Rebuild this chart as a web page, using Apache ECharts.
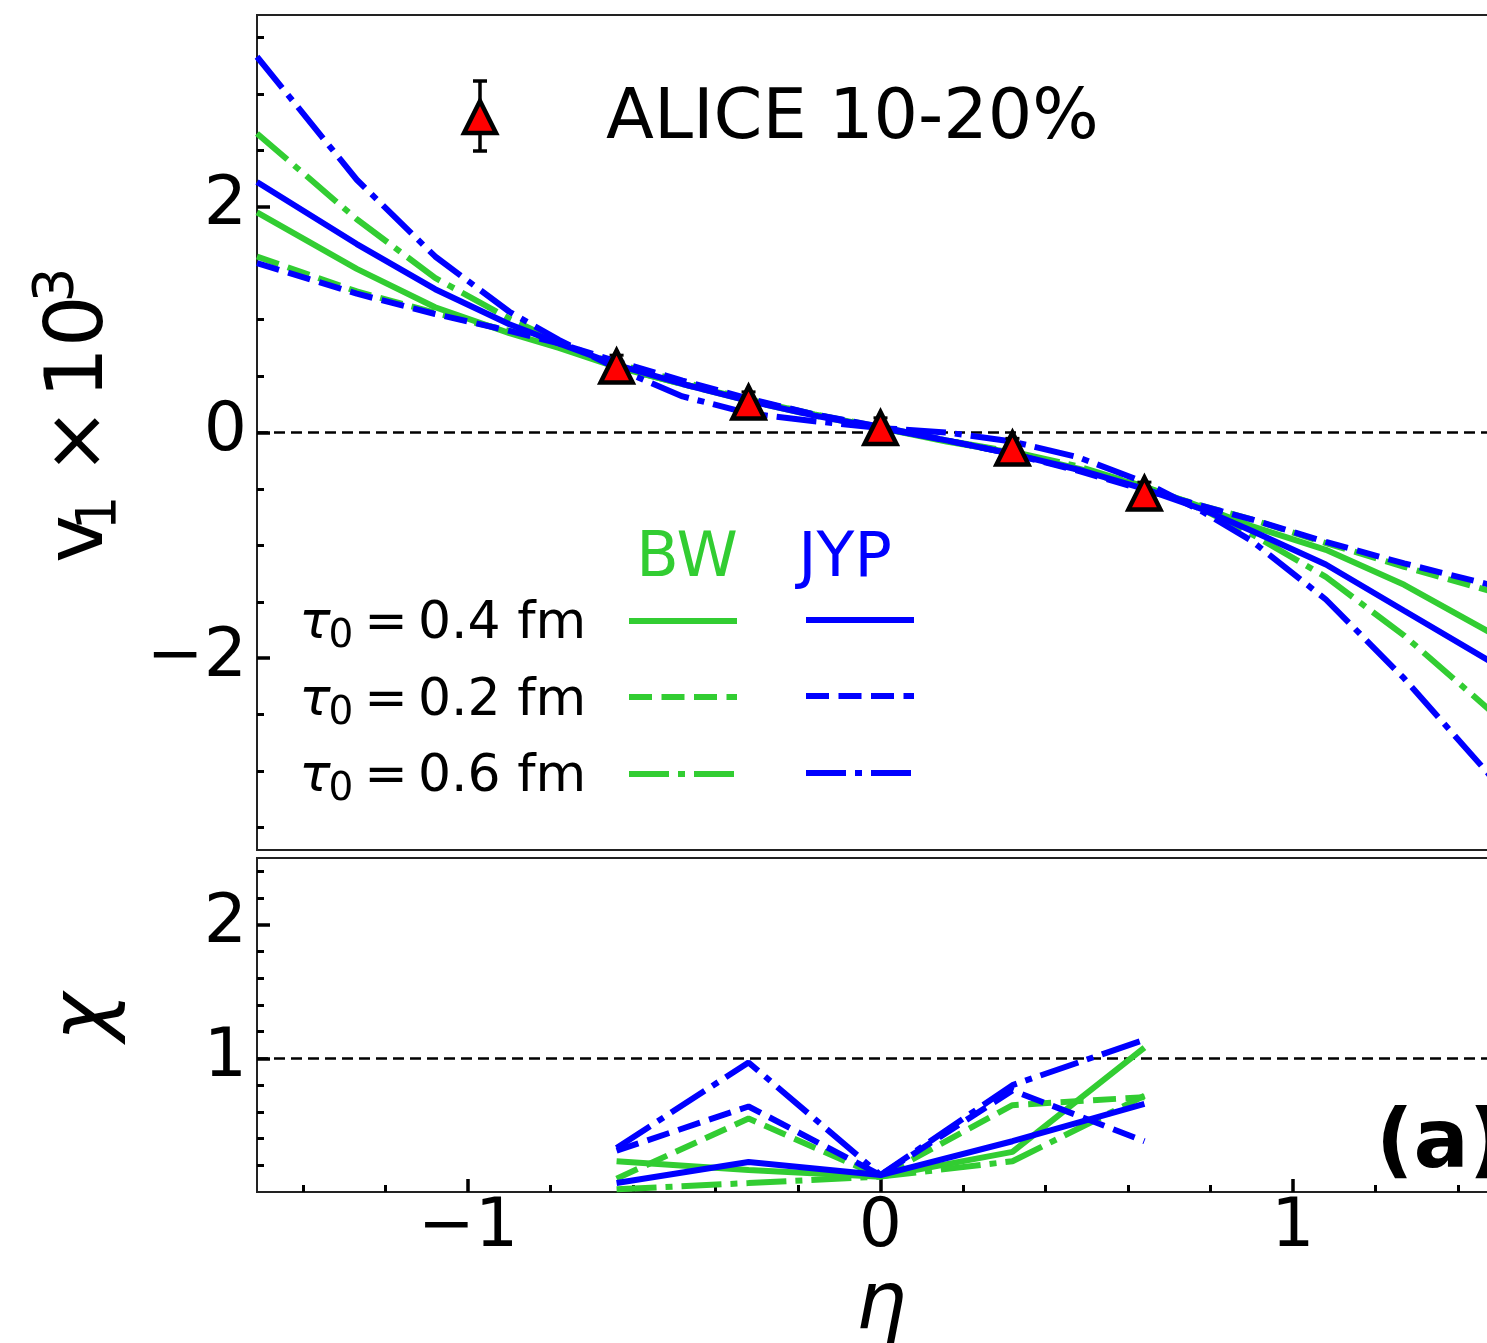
<!DOCTYPE html>
<html><head><meta charset="utf-8">
<script src="https://cdn.jsdelivr.net/npm/echarts@6/dist/echarts.min.js"></script>
<style>html,body{margin:0;padding:0;background:#fff}#c{width:1487px;height:1343px}</style>
</head><body><div id="c"></div>
<script>
// ---------- data ----------
const eta = [-1.512, -1.27, -1.08, -0.9, -0.78, -0.64, -0.48, -0.32, -0.16, 0, 0.16, 0.32, 0.48, 0.64, 0.78, 0.9, 1.08, 1.27, 1.512];
const v1_BW_04  = [1.95, 1.45, 1.11, 0.88, 0.75, 0.58, 0.43, 0.29, 0.16, 0.04, -0.08, -0.18, -0.32, -0.48, -0.66, -0.83, -1.04, -1.35, -1.84];
const v1_BW_02  = [1.56, 1.25, 1.06, 0.90, 0.78, 0.61, 0.45, 0.29, 0.16, 0.05, -0.07, -0.19, -0.33, -0.50, -0.65, -0.77, -0.98, -1.19, -1.44];
const v1_BW_06  = [2.65, 1.89, 1.37, 1.01, 0.80, 0.58, 0.43, 0.28, 0.15, 0.04, -0.07, -0.17, -0.30, -0.48, -0.68, -0.90, -1.28, -1.80, -2.57];
const v1_JYP_04 = [2.22, 1.67, 1.27, 0.96, 0.79, 0.60, 0.43, 0.28, 0.15, 0.04, -0.07, -0.19, -0.33, -0.50, -0.68, -0.87, -1.17, -1.58, -2.10];
const v1_JYP_02 = [1.50, 1.23, 1.05, 0.90, 0.79, 0.63, 0.46, 0.30, 0.16, 0.05, -0.07, -0.19, -0.34, -0.51, -0.65, -0.77, -0.97, -1.16, -1.38];
const v1_JYP_06 = [3.33, 2.24, 1.56, 1.07, 0.82, 0.57, 0.32, 0.17, 0.10, 0.04, 0.00, -0.08, -0.22, -0.44, -0.70, -0.96, -1.48, -2.18, -3.18];

const etaData = [-0.64, -0.32, 0, 0.32, 0.64];
const v1Data  = [0.585, 0.265, 0.04, -0.142, -0.54];
const v1Err   = [0.10, 0.095, 0.09, 0.09, 0.10];

const chi_BW_04  = [0.23, 0.165, 0.115, 0.30, 1.08];
const chi_BW_02  = [0.10, 0.55, 0.115, 0.65, 0.71];
const chi_BW_06  = [0.02, 0.067, 0.115, 0.23, 0.72];
const chi_JYP_04 = [0.067, 0.225, 0.127, 0.38, 0.66];
const chi_JYP_02 = [0.31, 0.64, 0.127, 0.76, 0.38];
const chi_JYP_06 = [0.33, 0.97, 0.127, 0.80, 1.14];

const xMajor = [-1, 0, 1];
const xMinor = [-1.4, -1.2, -0.8, -0.6, -0.4, -0.2, 0.2, 0.4, 0.6, 0.8, 1.2, 1.4];
const yTopMajor = [-2, 0, 2];
const yTopMinor = [-3.5, -3, -2.5, -1.5, -1, -0.5, 0.5, 1, 1.5, 2.5, 3, 3.5];
const yBotMajor = [1, 2];
const yBotMinor = [0.2, 0.4, 0.6, 0.8, 1.2, 1.4, 1.6, 1.8, 2.2, 2.4];

// ---------- style ----------
const GREEN = '#32CD32', BLUE = '#0000FF';
const FONT = 'DejaVu Sans';
const LW = 6;
const DASH = [23, 9.5];
const DASHDOT = [40, 9, 7, 9];
const X_MIN = -1.512, X_MAX = 1.512;

const fmt = v => (v < 0 ? '\u2212' + (-v) : String(v));
const zip = (xs, ys) => xs.map((x, i) => [x, ys[i]]);

function curve(name, ys, color, type, gi) {
  return {
    name, type: 'line', xAxisIndex: gi === 0 ? 0 : 1, yAxisIndex: gi === 0 ? 0 : 2,
    data: zip(gi === 0 ? eta : etaData, ys), showSymbol: false, symbol: 'none',
    lineStyle: { color, width: LW, type, cap: 'butt' }, clip: true, z: 3, silent: true
  };
}
function refLine(y, gi) {
  return {
    type: 'line', xAxisIndex: gi === 0 ? 0 : 1, yAxisIndex: gi === 0 ? 0 : 2,
    data: [[X_MIN, y], [X_MAX, y]], showSymbol: false, symbol: 'none',
    lineStyle: { color: '#000', width: 2.5, type: [11, 6] }, z: 2, silent: true
  };
}
const axisTxt = { color: '#000', fontSize: 68, fontFamily: FONT };
const noLine = { show: false, onZero: false };

const option = {
  animation: false,
  backgroundColor: '#fff',
  grid: [
    { left: 257, top: 15, width: 1247, height: 835, show: true, borderColor: '#222', borderWidth: 2, backgroundColor: 'transparent', containLabel: false, outerBoundsMode: 'none' },
    { left: 257, top: 858, width: 1247, height: 334, show: true, borderColor: '#222', borderWidth: 2, backgroundColor: 'transparent', containLabel: false, outerBoundsMode: 'none' }
  ],
  xAxis: [
    { gridIndex: 0, type: 'value', min: X_MIN, max: X_MAX, show: false, axisLine: noLine },
    { gridIndex: 1, type: 'value', min: X_MIN, max: X_MAX, position: 'bottom',
      axisLine: noLine, splitLine: { show: false },
      axisTick: { show: true, inside: true, length: 13, customValues: xMajor, lineStyle: { color: '#000', width: 3.5 } },
      axisLabel: Object.assign({ show: true, margin: 2, customValues: xMajor, formatter: fmt }, axisTxt) },
    { gridIndex: 1, type: 'value', min: X_MIN, max: X_MAX, position: 'bottom',
      axisLine: noLine, splitLine: { show: false }, axisLabel: { show: false },
      axisTick: { show: true, inside: true, length: 7, customValues: xMinor, lineStyle: { color: '#000', width: 3 } } }
  ],
  yAxis: [
    { gridIndex: 0, type: 'value', min: -3.7, max: 3.7, position: 'left',
      axisLine: noLine, splitLine: { show: false },
      axisTick: { show: true, inside: true, length: 13, customValues: yTopMajor, lineStyle: { color: '#000', width: 3.5 } },
      axisLabel: Object.assign({ show: true, margin: 10, customValues: yTopMajor, formatter: fmt }, axisTxt) },
    { gridIndex: 0, type: 'value', min: -3.7, max: 3.7, position: 'left',
      axisLine: noLine, splitLine: { show: false }, axisLabel: { show: false },
      axisTick: { show: true, inside: true, length: 7, customValues: yTopMinor, lineStyle: { color: '#000', width: 3 } } },
    { gridIndex: 1, type: 'value', min: 0, max: 2.5, position: 'left',
      axisLine: noLine, splitLine: { show: false },
      axisTick: { show: true, inside: true, length: 13, customValues: yBotMajor, lineStyle: { color: '#000', width: 3.5 } },
      axisLabel: Object.assign({ show: true, margin: 10, customValues: yBotMajor, formatter: fmt }, axisTxt) },
    { gridIndex: 1, type: 'value', min: 0, max: 2.5, position: 'left',
      axisLine: noLine, splitLine: { show: false }, axisLabel: { show: false },
      axisTick: { show: true, inside: true, length: 7, customValues: yBotMinor, lineStyle: { color: '#000', width: 3 } } }
  ],
  series: [
    refLine(0, 0),
    refLine(1, 1),
    curve('BW 0.4', v1_BW_04, GREEN, 'solid', 0),
    curve('BW 0.2', v1_BW_02, GREEN, DASH, 0),
    curve('BW 0.6', v1_BW_06, GREEN, DASHDOT, 0),
    curve('JYP 0.4', v1_JYP_04, BLUE, 'solid', 0),
    curve('JYP 0.2', v1_JYP_02, BLUE, DASH, 0),
    curve('JYP 0.6', v1_JYP_06, BLUE, DASHDOT, 0),
    curve('chi BW 0.4', chi_BW_04, GREEN, 'solid', 1),
    curve('chi BW 0.2', chi_BW_02, GREEN, DASH, 1),
    curve('chi BW 0.6', chi_BW_06, GREEN, DASHDOT, 1),
    curve('chi JYP 0.4', chi_JYP_04, BLUE, 'solid', 1),
    curve('chi JYP 0.2', chi_JYP_02, BLUE, DASH, 1),
    curve('chi JYP 0.6', chi_JYP_06, BLUE, DASHDOT, 1),
    {
      type: 'custom', xAxisIndex: 0, yAxisIndex: 0, z: 9, silent: true,
      data: etaData.map((e, i) => [e, v1Data[i], v1Err[i]]),
      renderItem: (params, api) => {
        const x = api.value(0), y = api.value(1), e = api.value(2);
        const t = api.coord([x, y + e]), b = api.coord([x, y - e]);
        const s = { stroke: '#000', lineWidth: 3 };
        return { type: 'group', children: [
          { type: 'line', shape: { x1: t[0], y1: t[1], x2: b[0], y2: b[1] }, style: s },
          { type: 'line', shape: { x1: t[0] - 7, y1: t[1], x2: t[0] + 7, y2: t[1] }, style: s },
          { type: 'line', shape: { x1: b[0] - 7, y1: b[1], x2: b[0] + 7, y2: b[1] }, style: s }
        ]};
      }
    },
    {
      name: 'ALICE 10-20%', type: 'scatter', xAxisIndex: 0, yAxisIndex: 0, z: 10, silent: true,
      data: zip(etaData, v1Data), symbol: 'triangle', symbolSize: [32, 32],
      itemStyle: { color: '#FF0000', borderColor: '#000', borderWidth: 4.5, opacity: 1 }
    }
  ],
  graphic: [
    // ALICE legend
    { type: 'line', shape: { x1: 480, y1: 81, x2: 480, y2: 151 }, style: { stroke: '#000', lineWidth: 3.5 }, z: 20 },
    { type: 'line', shape: { x1: 473, y1: 81, x2: 487, y2: 81 }, style: { stroke: '#000', lineWidth: 3.5 }, z: 20 },
    { type: 'line', shape: { x1: 473, y1: 151, x2: 487, y2: 151 }, style: { stroke: '#000', lineWidth: 3.5 }, z: 20 },
    { type: 'polygon', shape: { points: [[480, 101], [496, 133], [464, 133]] }, style: { fill: '#FF0000', stroke: '#000', lineWidth: 4.5 }, z: 21 },
    { type: 'text', x: 606, y: 120, z: 20, style: { text: 'ALICE 10-20%', fontSize: 70, fontFamily: FONT, fill: '#000', align: 'left', verticalAlign: 'middle' } },
    // model legend headers
    { type: 'text', x: 687, y: 560, z: 20, style: { text: 'BW', fontSize: 62, fontFamily: FONT, fill: GREEN, align: 'center', verticalAlign: 'middle' } },
    { type: 'text', x: 845, y: 560, z: 20, style: { text: 'JYP', fontSize: 62, fontFamily: FONT, fill: BLUE, align: 'center', verticalAlign: 'middle' } },
    // rows
    ...[['0.4', 642], ['0.2', 719], ['0.6', 795]].flatMap(([t, base]) => [
      { type: 'text', x: 315, y: base - 18, z: 20, style: { text: '\u03C4', fontSize: 52, fontStyle: 'italic', fontFamily: FONT, fill: '#000', align: 'center', verticalAlign: 'middle' } },
      { type: 'text', x: 341, y: base + 8 - 13.5, z: 20, style: { text: '0', fontSize: 39, fontFamily: FONT, fill: '#000', align: 'center', verticalAlign: 'middle' } },
      { type: 'text', x: 386, y: base - 18, z: 20, style: { text: '=', fontSize: 52, fontFamily: FONT, fill: '#000', align: 'center', verticalAlign: 'middle' } },
      { type: 'text', x: 418, y: base - 18, z: 20, style: { text: t + ' fm', fontSize: 52, fontFamily: FONT, fill: '#000', align: 'left', verticalAlign: 'middle' } }
    ]),
    ...[['solid', 621], [DASH, 697], [DASHDOT, 774]].flatMap(([d, y]) => [
      { type: 'line', shape: { x1: 629, y1: y, x2: 737, y2: y }, z: 20, style: { stroke: GREEN, lineWidth: LW, lineDash: d === 'solid' ? null : d } },
      { type: 'line', shape: { x1: 806, y1: y - 1, x2: 914, y2: y - 1 }, z: 20, style: { stroke: BLUE, lineWidth: LW, lineDash: d === 'solid' ? null : d } }
    ]),
    // y-axis label v1 x 10^3 (rotated)
    { type: 'text', x: 81, y: 539, rotation: Math.PI / 2, z: 20, style: { text: 'v', fontSize: 81, fontFamily: FONT, fill: '#000', align: 'center', verticalAlign: 'middle' } },
    { type: 'text', x: 101, y: 513, rotation: Math.PI / 2, z: 20, style: { text: '1', fontSize: 55, fontFamily: FONT, fill: '#000', align: 'center', verticalAlign: 'middle' } },
    { type: 'text', x: 81, y: 441, rotation: Math.PI / 2, z: 20, style: { text: '\u00D7', fontSize: 81, fontFamily: FONT, fill: '#000', align: 'center', verticalAlign: 'middle' } },
    { type: 'text', x: 81, y: 347, rotation: Math.PI / 2, z: 20, style: { text: '10', fontSize: 81, fontFamily: FONT, fill: '#000', align: 'center', verticalAlign: 'middle' } },
    { type: 'text', x: 58, y: 285, rotation: Math.PI / 2, z: 20, style: { text: '3', fontSize: 55, fontFamily: FONT, fill: '#000', align: 'center', verticalAlign: 'middle' } },
    // chi label
    { type: 'text', x: 87, y: 1017, rotation: Math.PI / 2, z: 20, style: { text: '\u03C7', fontSize: 82, fontStyle: 'italic', fontFamily: FONT, fill: '#000', align: 'center', verticalAlign: 'middle' } },
    // eta label
    { type: 'text', x: 881, y: 1307, z: 20, style: { text: '\u03B7', fontSize: 80, fontStyle: 'italic', fontFamily: FONT, fill: '#000', align: 'center', verticalAlign: 'middle' } },
    // panel tag
    { type: 'text', x: 1376, y: 1146, z: 20, style: { text: '(a)', fontSize: 82, fontWeight: 'bold', fontFamily: FONT, fill: '#000', align: 'left', verticalAlign: 'middle' } }
  ]
};
const chart = echarts.init(document.getElementById('c'), null, { renderer: 'canvas' });
chart.setOption(option);
</script>
</body></html>
